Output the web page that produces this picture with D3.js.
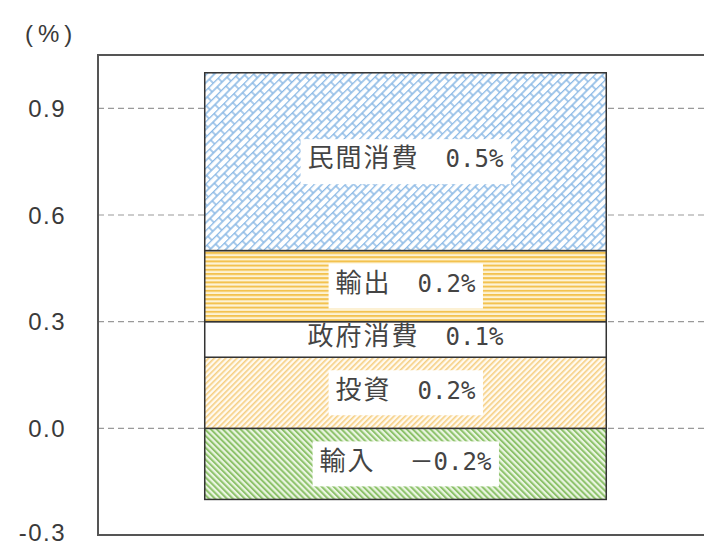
<!DOCTYPE html>
<html><head><meta charset="utf-8">
<script src="https://cdn.jsdelivr.net/npm/d3@7"></script>
<style>html,body{margin:0;padding:0;background:#fff;}svg{display:block;}</style>
</head><body>
<svg id="chart" width="704" height="547"></svg>
<script>
// ---- data ----
const categories = ["輸入", "投資", "政府消費", "輸出", "民間消費"];
const values = [-0.2, 0.2, 0.1, 0.2, 0.5];
const valueLabels = ["－0.2%", "0.2%", "0.1%", "0.2%", "0.5%"];
const yTicks = [-0.3, 0.0, 0.3, 0.6, 0.9];
const yTickLabels = ["-0.3", "0.0", "0.3", "0.6", "0.9"];
const unitLabel = "(%)";

// ---- layout ----
const svg = d3.select("#chart");
const frame = {left: 98, top: 55, right: 713, bottom: 535};
const y = d3.scaleLinear().domain([-0.3, 1.05]).range([frame.bottom, frame.top]);
const x = d3.scaleBand().domain(["total"]).range([frame.left, frame.right]).paddingInner(0.21).paddingOuter(0.21);

const defs = svg.append("defs");
// brick pattern (blue)
const pb = defs.append("pattern").attr("id", "pBrick").attr("patternUnits", "userSpaceOnUse")
  .attr("width", 14).attr("height", 11).attr("patternTransform", "rotate(-45)");
pb.append("rect").attr("width", 14).attr("height", 11).attr("fill", "#fff");
pb.append("path").attr("d", "M0,0.5H14M0,6H14M1,0.5V6M8,6V11.5").attr("stroke", "#86b6e4").attr("stroke-width", 1.4).attr("fill", "none");
// horizontal stripes (yellow)
const ph = defs.append("pattern").attr("id", "pHoriz").attr("patternUnits", "userSpaceOnUse").attr("width", 8).attr("height", 4.2);
ph.append("rect").attr("width", 8).attr("height", 4.2).attr("fill", "#fdf3d6");
ph.append("rect").attr("y", 0).attr("width", 8).attr("height", 2).attr("fill", "#f3c24f");
// backslash diagonal (light orange)
const pd = defs.append("pattern").attr("id", "pDiagB").attr("patternUnits", "userSpaceOnUse")
  .attr("width", 4).attr("height", 4).attr("patternTransform", "rotate(45)");
pd.append("rect").attr("width", 4).attr("height", 4).attr("fill", "#fffaf0");
pd.append("rect").attr("width", 1.6).attr("height", 4).attr("fill", "#f6cf83");
// slash diagonal (green)
const pg = defs.append("pattern").attr("id", "pDiagG").attr("patternUnits", "userSpaceOnUse")
  .attr("width", 4.2).attr("height", 4.2).attr("patternTransform", "rotate(-45)");
pg.append("rect").attr("width", 4.2).attr("height", 4.2).attr("fill", "#eaf5e1");
pg.append("rect").attr("width", 2).attr("height", 4.2).attr("fill", "#8dc26b");

const fills = {"輸入": "url(#pDiagG)", "投資": "url(#pDiagB)", "政府消費": "#ffffff", "輸出": "url(#pHoriz)", "民間消費": "url(#pBrick)"};

// gridlines
svg.append("g").selectAll("line").data(yTicks.filter(t => t > -0.3)).join("line")
  .attr("x1", frame.left).attr("x2", 704)
  .attr("y1", d => y(d)).attr("y2", d => y(d))
  .attr("stroke", "#999").attr("stroke-width", 1.2).attr("stroke-dasharray", "6,4");

// frame
svg.append("rect").attr("x", frame.left).attr("y", frame.top)
  .attr("width", 720 - frame.left).attr("height", frame.bottom - frame.top)
  .attr("fill", "none").attr("stroke", "#555").attr("stroke-width", 2);

// y tick labels
svg.append("g").selectAll("text").data(yTicks).join("text")
  .attr("x", 66).attr("y", d => Math.min(y(d), frame.bottom - 3)).attr("dy", "0.36em")
  .attr("text-anchor", "end")
  .attr("font-family", "'Liberation Sans', Arial, sans-serif").attr("font-size", 24)
  .attr("letter-spacing", 1.5).attr("fill", "#3a3a3a")
  .text((d, i) => yTickLabels[i]);
svg.append("text").attr("x", 25).attr("y", 42)
  .attr("font-family", "'Liberation Sans', Arial, sans-serif").attr("font-size", 24)
  .attr("letter-spacing", 5).attr("fill", "#3a3a3a").text(unitLabel);

// stacked segments
const row = {};
categories.forEach((c, i) => row[c] = values[i]);
const series = d3.stack().keys(categories).offset(d3.stackOffsetDiverging)([row]);

const seg = svg.append("g").selectAll("g").data(series).join("g");
seg.append("rect")
  .attr("x", x("total")).attr("width", x.bandwidth())
  .attr("y", d => y(Math.max(d[0][0], d[0][1])))
  .attr("height", d => Math.abs(y(d[0][0]) - y(d[0][1])))
  .attr("fill", d => fills[d.key])
  .attr("stroke", "#333").attr("stroke-width", 1.5);

// labels
seg.each(function(d, i) {
  const g = d3.select(this);
  const cy = (y(d[0][0]) + y(d[0][1])) / 2;
  const segH = Math.abs(y(d[0][0]) - y(d[0][1]));
  const cx = x("total") + x.bandwidth() / 2;
  const box = g.append("rect").attr("fill", "#fff");
  const t = g.append("text").attr("x", cx).attr("y", cy).attr("dy", "0.36em")
    .attr("text-anchor", "middle").attr("fill", "#444");
  t.append("tspan").attr("font-family", "'Noto Sans CJK JP', sans-serif").attr("font-size", 26)
    .attr("letter-spacing", 2).text(d.key);
  const lab = valueLabels[categories.indexOf(d.key)];
  const neg = lab.startsWith("－");
  if (neg) {
    t.append("tspan").attr("dx", 34).attr("font-family", "'Noto Sans CJK JP', sans-serif").attr("font-size", 24).text("－");
    t.append("tspan").attr("font-family", "'DejaVu Sans Mono', monospace").attr("font-size", 24).text(lab.slice(1));
  } else {
    t.append("tspan").attr("dx", 26).attr("font-family", "'DejaVu Sans Mono', monospace").attr("font-size", 24).text(lab);
  }
  const bb = t.node().getBBox();
  const h = Math.min(45, segH - 3);
  box.attr("x", bb.x - 7).attr("width", bb.width + 14).attr("y", cy - h / 2).attr("height", h);
});
</script>
</body></html>
